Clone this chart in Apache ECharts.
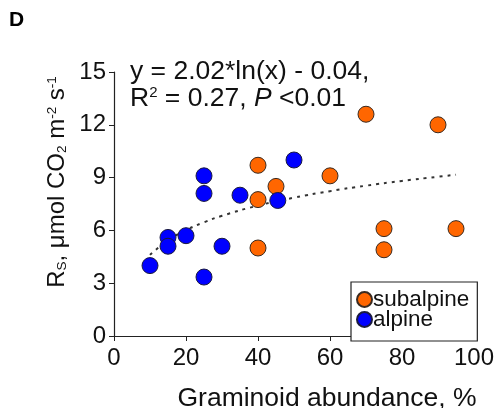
<!DOCTYPE html>
<html><head><meta charset="utf-8">
<script src="https://cdn.jsdelivr.net/npm/echarts@6/dist/echarts.min.js"></script>
<style>html,body{margin:0;padding:0;background:#fff}#c{width:499px;height:408px}</style>
</head><body><div id="c"></div>
<script>
var subalpineX = [70, 90, 40, 60, 45, 40, 75, 95, 40, 75];
var subalpineY = [12.6, 12.0, 9.7, 9.1, 8.5, 7.75, 6.1, 6.1, 5.0, 4.9];
var alpineX = [50, 25, 25, 35, 45.5, 20, 15, 15, 30, 10, 25];
var alpineY = [10.0, 9.1, 8.1, 8.0, 7.7, 5.7, 5.6, 5.1, 5.1, 4.0, 3.35];
var fitX = [10, 15, 20, 25, 30, 40, 50, 60, 70, 80, 90, 95];
var fitY = [4.61, 5.43, 6.01, 6.46, 6.83, 7.41, 7.86, 8.23, 8.54, 8.81, 9.05, 9.16];
var xTicks = [0, 20, 40, 60, 80, 100];
var yTicks = [0, 3, 6, 9, 12, 15];

function pairs(xs, ys){ return xs.map(function(x,i){ return [x, ys[i]]; }); }
var FONT = 'Liberation Sans, Arial, sans-serif';
var chart = echarts.init(document.getElementById('c'), null, {renderer:'canvas'});
chart.setOption({
  animation: false,
  backgroundColor: '#fff',
  title: { text: 'D', left: 9, top: 10, padding: 0, textStyle: { fontFamily: FONT, fontWeight: 'bold', fontSize: 21, color: '#000' } },
  grid: { left: 114, right: 25, top: 72, bottom: 72, outerBoundsMode: 'none', containLabel: false },
  xAxis: {
    type: 'value', min: xTicks[0], max: xTicks[xTicks.length-1], interval: 20,
    name: 'Graminoid abundance, %', nameLocation: 'middle', nameGap: 49,
    nameTextStyle: { fontFamily: FONT, fontSize: 26.5, color: '#111', padding: [0, 0, 0, 66] },
    axisLine: { show: true, lineStyle: { color: '#222', width: 1.2 } },
    axisTick: { show: true, inside: false, length: 5, lineStyle: { color: '#222' } },
    axisLabel: { fontFamily: FONT, fontSize: 24, color: '#111', margin: 10 },
    splitLine: { show: false }
  },
  yAxis: {
    type: 'value', min: yTicks[0], max: yTicks[yTicks.length-1], interval: 3,
    axisLine: { show: true, onZero: false, lineStyle: { color: '#222', width: 1.2 } },
    axisTick: { show: true, inside: false, length: 5, lineStyle: { color: '#222' } },
    axisLabel: { fontFamily: FONT, fontSize: 24, color: '#111', margin: 8 },
    splitLine: { show: false }
  },
  legend: {
    orient: 'vertical', left: 351, top: 282,
    padding: [6, 8, 10, 5], itemGap: -3, itemWidth: 15, itemHeight: 15,
    borderColor: '#222', borderWidth: 1.2, backgroundColor: '#fff',
    icon: 'circle',
    textStyle: { fontFamily: FONT, fontSize: 22.5, lineHeight: 20, color: '#111', padding: [0,0,0,-4] },
    data: ['subalpine', 'alpine']
  },
  graphic: [{
    type: 'text', x: 57, y: 182, rotation: Math.PI / 2,
    style: {
      text: 'R{sub|S}, μmol CO{sub|2} m{sup|-2} s{sup|-1}',
      align: 'center', verticalAlign: 'middle',
      fontFamily: FONT, fontSize: 24, fill: '#111',
      rich: {
        sub: { fontFamily: FONT, fontSize: 13.5, fill: '#111', verticalAlign: 'bottom', padding: [9,0,0,0] },
        sup: { fontFamily: FONT, fontSize: 13.5, fill: '#111', verticalAlign: 'top', padding: [0,0,9,0] }
      }
    }
  }, {
    type: 'text', left: 130, top: 58,
    style: { text: 'y = 2.02*ln(x) - 0.04,', fontFamily: FONT, fontSize: 26.5, fill: '#111' }
  }, {
    type: 'text', left: 130, top: 85,
    style: {
      text: 'R{sup|2} = 0.27, {it|P} <0.01', fontFamily: FONT, fontSize: 26.5, fill: '#111',
      rich: {
        sup: { fontFamily: FONT, fontSize: 15, fill: '#111', verticalAlign: 'top', padding: [0,0,11,0] },
        it: { fontFamily: FONT, fontSize: 26.5, fontStyle: 'italic', fill: '#111' }
      }
    }
  }],
  series: [{
    name: 'fit', type: 'line', data: pairs(fitX, fitY), smooth: true, symbol: 'none', silent: true, z: 1,
    lineStyle: { color: '#333', width: 2, type: [3, 5] }
  }, {
    name: 'subalpine', type: 'scatter', data: pairs(subalpineX, subalpineY), symbolSize: 16, z: 3,
    itemStyle: { color: '#FF6600', borderColor: '#3a2a20', borderWidth: 1, opacity: 1 }
  }, {
    name: 'alpine', type: 'scatter', data: pairs(alpineX, alpineY), symbolSize: 16, z: 3,
    itemStyle: { color: '#0000FF', borderColor: '#1a1a40', borderWidth: 1, opacity: 1 }
  }]
});
</script></body></html>
